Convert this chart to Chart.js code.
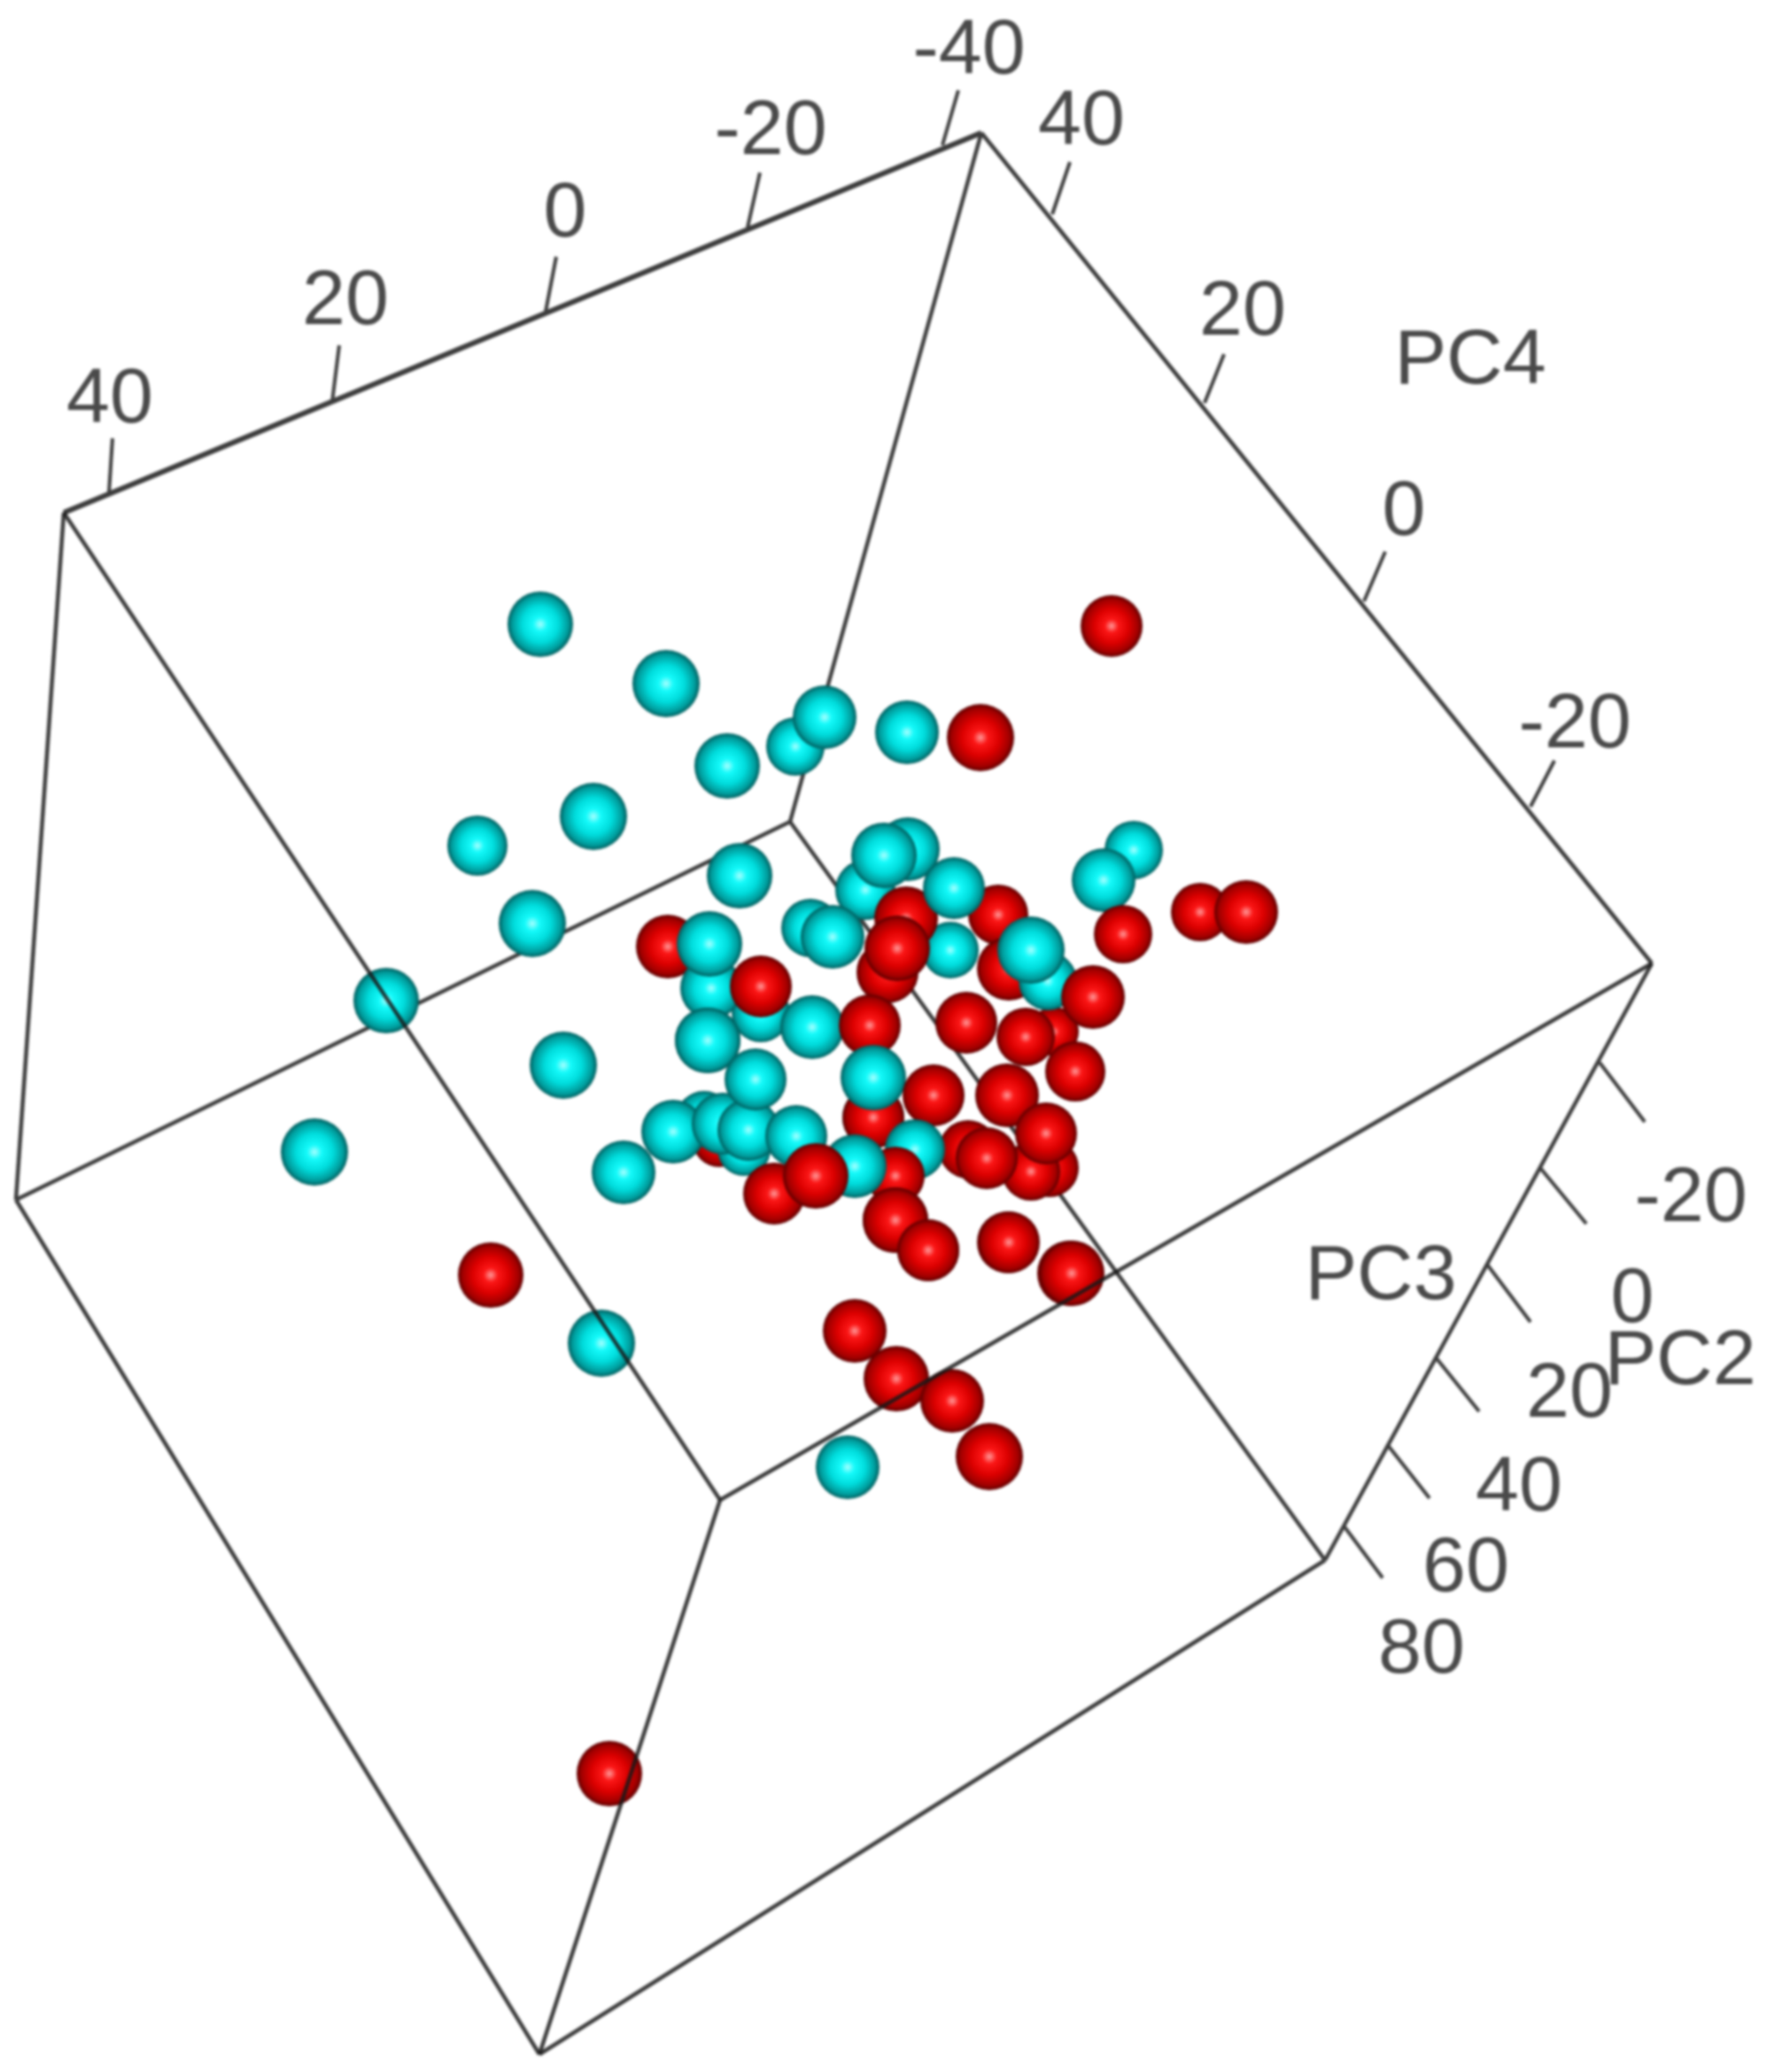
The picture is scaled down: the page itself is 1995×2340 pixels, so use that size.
<!DOCTYPE html>
<html>
<head>
<meta charset="utf-8">
<title>PCA 3D</title>
<script src="https://cdn.jsdelivr.net/npm/chart.js@4"></script>
<style>
  html, body { margin: 0; background: #fff; }
  #wrap { width: 1995px; height: 2340px; }
  canvas { display: block; filter: blur(1.6px); }
</style>
</head>
<body>
<div id="wrap"><canvas id="pca" width="1995" height="2340"></canvas></div>
<script>
// box corners
const cornerNames = ["A", "B", "C", "D", "E", "F", "G", "H"];
const cornerX = [72, 1108, 1865, 892, 18, 609, 1496, 813];
const cornerY = [579, 150, 1088, 928, 1355, 2320, 1762, 1694];
const backEdges = ["AB", "BC", "AE", "BD", "CG", "ED", "DG", "EF", "FG"];
const frontEdges = ["AH", "CH", "HF"];

// axis ticks
const tickStartX = [123, 375, 616, 844, 1064, 1188, 1360, 1540, 1728, 1806, 1739, 1679, 1621, 1566, 1517];
const tickStartY = [557, 454, 352, 257, 164, 242, 455, 679, 911, 1200, 1319, 1428, 1533, 1631, 1723];
const tickEndX = [127, 383, 628, 858, 1082, 1208, 1382, 1564, 1755, 1857, 1791, 1728, 1670, 1614, 1561];
const tickEndY = [495, 390, 290, 195, 102, 183, 400, 623, 859, 1267, 1382, 1493, 1594, 1692, 1782];

// tick labels and axis names
const labelText = ["40", "20", "0", "-20", "-40", "40", "20", "0", "-20", "-20", "0", "20", "40", "60", "80", "PC4", "PC3", "PC2"];
const labelX = [124, 390, 638, 870, 1094, 1221, 1403, 1585, 1778, 1909, 1843, 1772, 1715, 1655, 1605, 1660, 1559, 1897];
const labelY = [453, 342, 243, 150, 59, 139, 354, 580, 820, 1355, 1469, 1576, 1682, 1773, 1865, 409, 1443, 1539];

// spheres, listed back to front so the overlaps come out right
const sphereGroup = [
  "C","C","C","C","C","C","C","C","C","C","C","C","C","C","C","C","C",
  "R","R","R","R","R","R","R","R","R","R","R",
  "R","R","R",
  "C","C","C","C","C",
  "R","C","C","R","R","C","R","C","C",
  "R","C","C","C","C","R","C",
  "C","R","R","C",
  "R","R","R","R","R","R",
  "C","R","R","R","R","R","R",
  "R","C","C","C","C","C","C","C","C","R","C","R","R","R",
  "R","R","R","R","R"
];
const sphereX = [
  610,752,821,898,931,1024,670,539,601,835,436,636,355,679,957,1280,1246,
  1255,1107,1355,1407,1268,554,688,1138,1208,965,1012,
  1190,1002,1127,
  977,1025,998,1073,915,
  1023,1077,940,1139,1013,1183,1234,1164,859,
  754,803,801,799,917,859,799,
  986,982,986,986,
  1091,1158,1214,1054,1137,1093,
  1033,1011,1185,1164,1114,1181,1011,
  812,840,795,760,816,845,853,704,899,874,965,921,1048,1011,
  1075,1117,1139,1210,1048
];
const sphereY = [
  705,772,865,843,810,827,922,955,1043,989,1130,1203,1301,1517,1657,960,994,
  707,833,1030,1030,1055,1440,2003,1403,1438,1503,1557,
  1165,1098,1033,
  1005,959,966,1073,1048,
  1037,1003,1058,1094,1071,1108,1126,1073,1144,
  1069,1116,1066,1175,1160,1114,1175,
  1262,1158,1262,1217,
  1155,1171,1210,1237,1237,1298,
  1298,1328,1319,1323,1308,1280,1378,
  1288,1298,1264,1278,1269,1276,1219,1324,1283,1348,1317,1328,1412,1378,
  1582,1645,1403,1438,1412
];
const sphereR = [
  37,38,37,33,36,36,38,34,38,37,37,38,38,38,36,33,36,
  35,38,33,36,33,37,37,35,37,36,37,
  28,35,34,
  34,36,37,32,33,
  36,35,36,36,37,33,36,38,33,
  36,35,37,37,36,35,37,
  35,35,35,37,
  35,33,34,35,36,33,
  34,33,33,33,35,35,37,
  30,30,32,36,35,35,35,36,35,35,36,37,35,37,
  36,38,35,37,35
];

const shades = {
  C: ["#a8ffff", "#14fafa", "#00dcdc", "#009a9a", "#005a5a"],
  R: ["#ff9a9a", "#fb1616", "#dc0000", "#a00000", "#5a0000"],
};

const sphereCache = {};
function sphereImage(group, r) {
  const key = group + r;
  if (sphereCache[key]) return sphereCache[key];
  const c = document.createElement("canvas");
  c.width = c.height = r * 2 + 2;
  const g = c.getContext("2d");
  const mid = r + 1;
  const grad = g.createRadialGradient(mid, mid, 0, mid, mid, r);
  const s = shades[group];
  grad.addColorStop(0, s[0]);
  grad.addColorStop(0.22, s[1]);
  grad.addColorStop(0.55, s[2]);
  grad.addColorStop(0.86, s[3]);
  grad.addColorStop(1, s[4]);
  g.fillStyle = grad;
  g.beginPath();
  g.arc(mid, mid, r, 0, Math.PI * 2);
  g.fill();
  sphereCache[key] = c;
  return c;
}

function edgePoints(name) {
  return [...name].map((n) => {
    const i = cornerNames.indexOf(n);
    return { x: cornerX[i], y: cornerY[i] };
  });
}

function lineSet(data, color, width, order) {
  return {
    type: "scatter",
    showLine: true,
    data: data,
    borderColor: color,
    borderWidth: width,
    pointRadius: 0,
    order: order,
  };
}

const labelPlugin = {
  id: "boxLabels",
  afterDatasetsDraw(chart) {
    const { ctx, scales } = chart;
    ctx.save();
    ctx.font = '88px "Liberation Sans"';
    ctx.fillStyle = "#4a4a4a";
    ctx.textAlign = "center";
    ctx.textBaseline = "middle";
    labelText.forEach((t, i) => {
      ctx.fillText(t, scales.x.getPixelForValue(labelX[i]), scales.y.getPixelForValue(labelY[i]));
    });
    ctx.restore();
  },
};

const datasets = [];
backEdges.forEach((e) => {
  datasets.push(lineSet(edgePoints(e), "#3c3c3c", e === "AB" ? 6 : 4.5, 2));
});
tickStartX.forEach((x, i) => {
  datasets.push(lineSet([{ x: x, y: tickStartY[i] }, { x: tickEndX[i], y: tickEndY[i] }], "#3c3c3c", 4, 2));
});
datasets.push({
  type: "bubble",
  data: sphereX.map((x, i) => ({ x: x, y: sphereY[i], r: sphereR[i] })),
  pointStyle: sphereX.map((x, i) => sphereImage(sphereGroup[i], sphereR[i])),
  order: 1,
});
frontEdges.forEach((e) => {
  datasets.push(lineSet(edgePoints(e), "rgba(25,25,25,0.85)", 4.5, 0));
});

new Chart(document.getElementById("pca").getContext("2d"), {
  data: { datasets: datasets },
  options: {
    responsive: false,
    animation: false,
    events: [],
    layout: { padding: 0, autoPadding: false },
    plugins: { legend: { display: false }, tooltip: { enabled: false } },
    scales: {
      x: { type: "linear", display: false, min: 0, max: 1995 },
      y: { type: "linear", display: false, min: 0, max: 2340, reverse: true },
    },
  },
  plugins: [labelPlugin],
});
</script>
</body>
</html>
